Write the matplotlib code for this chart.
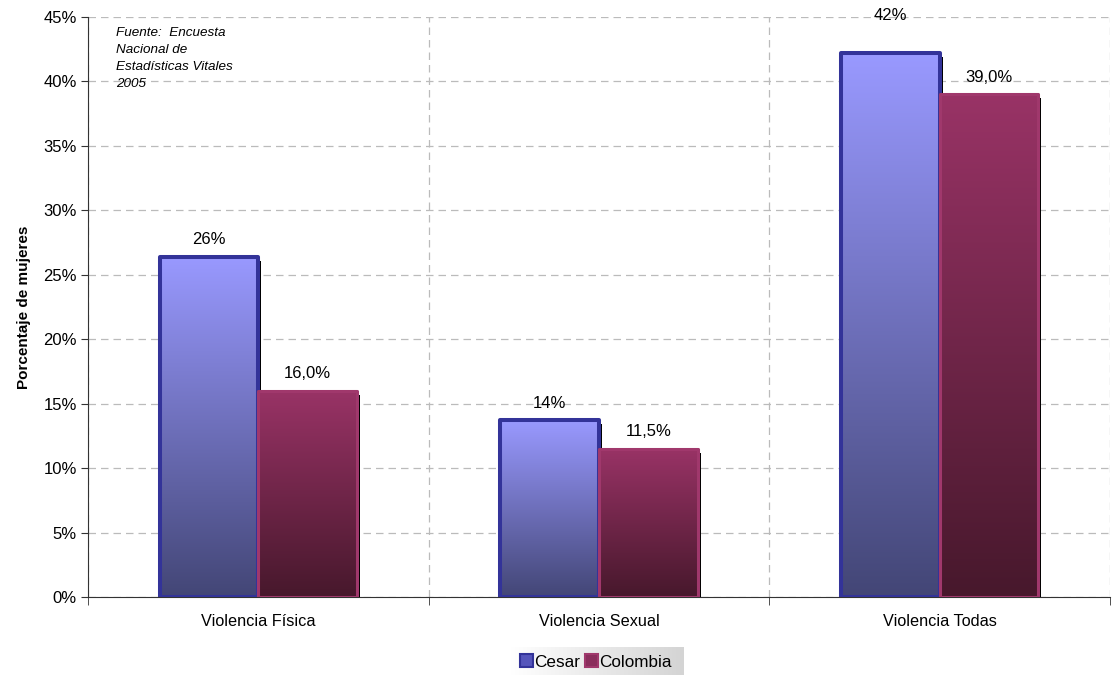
import numpy as np
import matplotlib
matplotlib.use("Agg")
import matplotlib.pyplot as plt
from matplotlib.patches import Rectangle
from matplotlib.colors import LinearSegmentedColormap
from matplotlib.transforms import ScaledTranslation
from matplotlib.ticker import FuncFormatter, FixedLocator

plt.rcParams['font.family'] = ['Liberation Sans', 'DejaVu Sans']

categories = ["Violencia Física", "Violencia Sexual", "Violencia Todas"]
series_names = ["Cesar", "Colombia"]
cesar = [0.264, 0.137, 0.422]
colombia = [0.160, 0.115, 0.390]
cesar_labels = ["26%", "14%", "42%"]
colombia_labels = ["16,0%", "11,5%", "39,0%"]
yticks = [0, 0.05, 0.10, 0.15, 0.20, 0.25, 0.30, 0.35, 0.40, 0.45]

styles = [
    dict(top="#9999FF", bottom="#434676", edge="#333399", lw=2.9),
    dict(top="#993366", bottom="#47182C", edge="#A0386C", lw=2.2),
]

fig = plt.figure(figsize=(11.16, 6.75), dpi=100)
ax = fig.add_axes([88/1116, 78/675, 1022/1116, 580/675])

x = np.arange(len(categories))
width = 0.29
offsets = [-0.145, 0.145]
data = [cesar, colombia]
labels = [cesar_labels, colombia_labels]

shadow_tr = ax.transData + ScaledTranslation(3/100, -4/100, fig.dpi_scale_trans)

z = 3
for si, (vals, st) in enumerate(zip(data, styles)):
    bars = ax.bar(x + offsets[si], vals, width, color='none', edgecolor='none', zorder=z)
    cmap = LinearSegmentedColormap.from_list("g%d" % si, [st["bottom"], st["top"]])
    grad = np.linspace(0, 1, 256).reshape(-1, 1)
    for b in bars:
        bx, bw, bh = b.get_x(), b.get_width(), b.get_height()
        sh = Rectangle((bx, 0), bw, bh, facecolor='black', edgecolor='none',
                       transform=shadow_tr, zorder=z, clip_on=True)
        ax.add_patch(sh)
        ax.imshow(grad, cmap=cmap, origin='lower', extent=(bx, bx + bw, 0, bh),
                  aspect='auto', zorder=z + 0.1, interpolation='bilinear')
        ax.add_patch(Rectangle((bx, 0), bw, bh, facecolor='none', edgecolor=st["edge"],
                               linewidth=st["lw"], zorder=z + 0.2, joinstyle='round'))
    for i, b in enumerate(bars):
        cx = b.get_x() + b.get_width() / 2
        extra = 38 if (si == 0 and i == 2) else 17
        ax.annotate(labels[si][i], (cx, b.get_height()), xytext=(0, extra),
                    textcoords='offset pixels', ha='center', va='center',
                    fontsize=12, color='black', zorder=10, annotation_clip=False)
    z += 1

ax.set_xlim(-0.5, 2.5)
ax.set_ylim(0, 0.45)
ax.set_yticks(yticks)
ax.yaxis.set_major_formatter(FuncFormatter(lambda v, p: "%d%%" % round(v * 100)))
ax.set_xticks(x)
ax.set_xticklabels(categories)
ax.xaxis.set_minor_locator(FixedLocator([-0.5, 0.5, 1.5, 2.5]))
ax.tick_params(axis='x', which='major', length=0, pad=12, labelsize=11.7)
ax.tick_params(axis='x', which='minor', length=6, direction='out', color='#333333')
ax.tick_params(axis='y', length=5, direction='out', labelsize=12, color='#333333', pad=3)

ax.grid(True, axis='y', which='major', linestyle=(0, (6, 4)), color='#BBBBBB', linewidth=0.9, zorder=0)
ax.grid(True, axis='x', which='minor', linestyle=(0, (6, 4)), color='#BBBBBB', linewidth=0.9, zorder=0)
ax.grid(False, axis='x', which='major')
ax.set_axisbelow(True)

for s in ['top', 'right']:
    ax.spines[s].set_visible(False)
ax.spines['left'].set_color('#333333')
ax.spines['bottom'].set_color('#333333')

ax.set_ylabel("Porcentaje de mujeres", fontsize=11, fontweight='bold', labelpad=9)

ax.text(116/1116, 1 - 27/675, "Fuente:  Encuesta\nNacional de\nEstadísticas Vitales\n2005",
        transform=fig.transFigure, ha='left', va='top', fontsize=9.7, style='italic',
        linespacing=1.55)

handles = [Rectangle((0, 0), 1, 1, facecolor=st["top"], edgecolor=st["edge"], linewidth=1.5)
           for st in styles]
handles[0].set_facecolor("#5555BB")
handles[1].set_facecolor("#8A2E5C")
leg = fig.legend(handles, series_names, loc='center', bbox_to_anchor=(596/1116, 1 - 662/675),
                 ncol=2, frameon=False, fontsize=12.3, handlelength=0.75, handleheight=0.75,
                 handletextpad=0.1, columnspacing=0.25, borderpad=0.3, borderaxespad=0)

fig.canvas.draw()
bb = leg.get_window_extent().transformed(fig.transFigure.inverted())
bax = fig.add_axes([bb.x0 - 4/1116, bb.y0 - 2/675, bb.width + 10/1116, bb.height + 4/675], zorder=-1)
hgrad = np.linspace(0, 1, 256).reshape(1, -1)
bax.imshow(hgrad, cmap=LinearSegmentedColormap.from_list("lg", ["#FFFFFF", "#D4D4D4"]),
           aspect='auto', extent=(0, 1, 0, 1))
bax.set_axis_off()

fig.savefig("out.png", dpi=100)
